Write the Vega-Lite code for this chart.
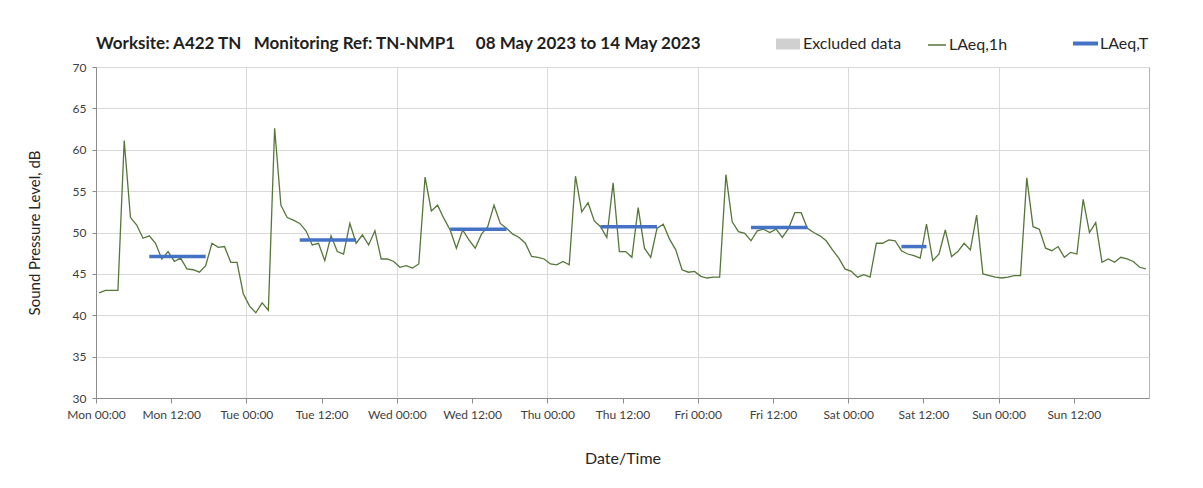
{
  "$schema": "https://vega.github.io/schema/vega-lite/v6.json",
  "width": 1053,
  "height": 331,
  "autosize": {"type": "none"},
  "padding": {"left": 96, "top": 67, "right": 54, "bottom": 90},
  "background": "white",
  "config": {
    "font": "Lato",
    "view": {"stroke": "#b3b3b3", "strokeWidth": 1}
  },
  "title": {
    "text": "Worksite: A422 TN\u00a0\u00a0\u00a0Monitoring Ref: TN-NMP1\u00a0\u00a0\u00a0\u00a0\u00a008 May 2023 to 14 May 2023",
    "anchor": "start",
    "frame": "group",
    "fontSize": 17,
    "fontWeight": "bold",
    "color": "#1f1f1f",
    "offset": -24
  },
  "datasets": {
    "hourly": [
      {"t":"2023-05-08T00:30","v":42.7},{"t":"2023-05-08T01:30","v":43.0},{"t":"2023-05-08T02:30","v":43.0},{"t":"2023-05-08T03:30","v":43.0},
      {"t":"2023-05-08T04:30","v":61.1},{"t":"2023-05-08T05:30","v":51.8},{"t":"2023-05-08T06:30","v":50.9},{"t":"2023-05-08T07:30","v":49.3},
      {"t":"2023-05-08T08:30","v":49.6},{"t":"2023-05-08T09:30","v":48.7},{"t":"2023-05-08T10:30","v":46.8},{"t":"2023-05-08T11:30","v":47.7},
      {"t":"2023-05-08T12:30","v":46.5},{"t":"2023-05-08T13:30","v":46.9},{"t":"2023-05-08T14:30","v":45.6},{"t":"2023-05-08T15:30","v":45.5},
      {"t":"2023-05-08T16:30","v":45.2},{"t":"2023-05-08T17:30","v":46.0},{"t":"2023-05-08T18:30","v":48.7},{"t":"2023-05-08T19:30","v":48.2},
      {"t":"2023-05-08T20:30","v":48.3},{"t":"2023-05-08T21:30","v":46.4},{"t":"2023-05-08T22:30","v":46.4},{"t":"2023-05-08T23:30","v":42.6},
      {"t":"2023-05-09T00:30","v":41.1},{"t":"2023-05-09T01:30","v":40.3},{"t":"2023-05-09T02:30","v":41.5},{"t":"2023-05-09T03:30","v":40.6},
      {"t":"2023-05-09T04:30","v":62.6},{"t":"2023-05-09T05:30","v":53.3},{"t":"2023-05-09T06:30","v":51.8},{"t":"2023-05-09T07:30","v":51.5},
      {"t":"2023-05-09T08:30","v":51.1},{"t":"2023-05-09T09:30","v":50.2},{"t":"2023-05-09T10:30","v":48.5},{"t":"2023-05-09T11:30","v":48.7},
      {"t":"2023-05-09T12:30","v":46.6},{"t":"2023-05-09T13:30","v":49.6},{"t":"2023-05-09T14:30","v":47.7},{"t":"2023-05-09T15:30","v":47.4},
      {"t":"2023-05-09T16:30","v":51.1},{"t":"2023-05-09T17:30","v":48.7},{"t":"2023-05-09T18:30","v":49.7},{"t":"2023-05-09T19:30","v":48.5},
      {"t":"2023-05-09T20:30","v":50.2},{"t":"2023-05-09T21:30","v":46.8},{"t":"2023-05-09T22:30","v":46.8},{"t":"2023-05-09T23:30","v":46.5},
      {"t":"2023-05-10T00:30","v":45.8},{"t":"2023-05-10T01:30","v":46.0},{"t":"2023-05-10T02:30","v":45.7},{"t":"2023-05-10T03:30","v":46.2},
      {"t":"2023-05-10T04:30","v":56.7},{"t":"2023-05-10T05:30","v":52.6},{"t":"2023-05-10T06:30","v":53.3},{"t":"2023-05-10T07:30","v":51.7},
      {"t":"2023-05-10T08:30","v":50.3},{"t":"2023-05-10T09:30","v":48.1},{"t":"2023-05-10T10:30","v":50.3},{"t":"2023-05-10T11:30","v":49.1},
      {"t":"2023-05-10T12:30","v":48.1},{"t":"2023-05-10T13:30","v":49.8},{"t":"2023-05-10T14:30","v":50.7},{"t":"2023-05-10T15:30","v":53.3},
      {"t":"2023-05-10T16:30","v":51.1},{"t":"2023-05-10T17:30","v":50.5},{"t":"2023-05-10T18:30","v":49.8},{"t":"2023-05-10T19:30","v":49.4},
      {"t":"2023-05-10T20:30","v":48.7},{"t":"2023-05-10T21:30","v":47.1},{"t":"2023-05-10T22:30","v":47.0},{"t":"2023-05-10T23:30","v":46.8},
      {"t":"2023-05-11T00:30","v":46.2},{"t":"2023-05-11T01:30","v":46.1},{"t":"2023-05-11T02:30","v":46.5},{"t":"2023-05-11T03:30","v":46.1},
      {"t":"2023-05-11T04:30","v":56.8},{"t":"2023-05-11T05:30","v":52.5},{"t":"2023-05-11T06:30","v":53.6},{"t":"2023-05-11T07:30","v":51.4},
      {"t":"2023-05-11T08:30","v":50.7},{"t":"2023-05-11T09:30","v":49.4},{"t":"2023-05-11T10:30","v":56.0},{"t":"2023-05-11T11:30","v":47.7},
      {"t":"2023-05-11T12:30","v":47.7},{"t":"2023-05-11T13:30","v":47.0},{"t":"2023-05-11T14:30","v":53.0},{"t":"2023-05-11T15:30","v":48.1},
      {"t":"2023-05-11T16:30","v":47.0},{"t":"2023-05-11T17:30","v":50.5},{"t":"2023-05-11T18:30","v":51.0},{"t":"2023-05-11T19:30","v":49.2},
      {"t":"2023-05-11T20:30","v":47.9},{"t":"2023-05-11T21:30","v":45.5},{"t":"2023-05-11T22:30","v":45.2},{"t":"2023-05-11T23:30","v":45.3},
      {"t":"2023-05-12T00:30","v":44.7},{"t":"2023-05-12T01:30","v":44.5},{"t":"2023-05-12T02:30","v":44.6},{"t":"2023-05-12T03:30","v":44.6},
      {"t":"2023-05-12T04:30","v":57.0},{"t":"2023-05-12T05:30","v":51.3},{"t":"2023-05-12T06:30","v":50.1},{"t":"2023-05-12T07:30","v":49.9},
      {"t":"2023-05-12T08:30","v":49.0},{"t":"2023-05-12T09:30","v":50.2},{"t":"2023-05-12T10:30","v":50.4},{"t":"2023-05-12T11:30","v":50.0},
      {"t":"2023-05-12T12:30","v":50.4},{"t":"2023-05-12T13:30","v":49.4},{"t":"2023-05-12T14:30","v":50.5},{"t":"2023-05-12T15:30","v":52.4},
      {"t":"2023-05-12T16:30","v":52.4},{"t":"2023-05-12T17:30","v":50.5},{"t":"2023-05-12T18:30","v":50.0},{"t":"2023-05-12T19:30","v":49.6},
      {"t":"2023-05-12T20:30","v":49.0},{"t":"2023-05-12T21:30","v":47.9},{"t":"2023-05-12T22:30","v":46.9},{"t":"2023-05-12T23:30","v":45.6},
      {"t":"2023-05-13T00:30","v":45.3},{"t":"2023-05-13T01:30","v":44.6},{"t":"2023-05-13T02:30","v":44.9},{"t":"2023-05-13T03:30","v":44.6},
      {"t":"2023-05-13T04:30","v":48.7},{"t":"2023-05-13T05:30","v":48.7},{"t":"2023-05-13T06:30","v":49.1},{"t":"2023-05-13T07:30","v":49.0},
      {"t":"2023-05-13T08:30","v":47.8},{"t":"2023-05-13T09:30","v":47.4},{"t":"2023-05-13T10:30","v":47.2},{"t":"2023-05-13T11:30","v":46.9},
      {"t":"2023-05-13T12:30","v":51.0},{"t":"2023-05-13T13:30","v":46.6},{"t":"2023-05-13T14:30","v":47.4},{"t":"2023-05-13T15:30","v":50.3},
      {"t":"2023-05-13T16:30","v":47.1},{"t":"2023-05-13T17:30","v":47.7},{"t":"2023-05-13T18:30","v":48.7},{"t":"2023-05-13T19:30","v":47.9},
      {"t":"2023-05-13T20:30","v":52.1},{"t":"2023-05-13T21:30","v":45.0},{"t":"2023-05-13T22:30","v":44.8},{"t":"2023-05-13T23:30","v":44.6},
      {"t":"2023-05-14T00:30","v":44.5},{"t":"2023-05-14T01:30","v":44.6},{"t":"2023-05-14T02:30","v":44.8},{"t":"2023-05-14T03:30","v":44.8},
      {"t":"2023-05-14T04:30","v":56.6},{"t":"2023-05-14T05:30","v":50.7},{"t":"2023-05-14T06:30","v":50.4},{"t":"2023-05-14T07:30","v":48.1},
      {"t":"2023-05-14T08:30","v":47.8},{"t":"2023-05-14T09:30","v":48.3},{"t":"2023-05-14T10:30","v":47.0},{"t":"2023-05-14T11:30","v":47.6},
      {"t":"2023-05-14T12:30","v":47.4},{"t":"2023-05-14T13:30","v":54.0},{"t":"2023-05-14T14:30","v":50.0},{"t":"2023-05-14T15:30","v":51.2},
      {"t":"2023-05-14T16:30","v":46.4},{"t":"2023-05-14T17:30","v":46.8},{"t":"2023-05-14T18:30","v":46.4},{"t":"2023-05-14T19:30","v":47.0},
      {"t":"2023-05-14T20:30","v":46.8},{"t":"2023-05-14T21:30","v":46.5},{"t":"2023-05-14T22:30","v":45.8},{"t":"2023-05-14T23:30","v":45.6}
    ],
    "periods": [
      {"s":"2023-05-08T08:30","e":"2023-05-08T17:30","v":47.1},
      {"s":"2023-05-09T08:30","e":"2023-05-09T17:30","v":49.1},
      {"s":"2023-05-10T08:30","e":"2023-05-10T17:30","v":50.4},
      {"s":"2023-05-11T08:30","e":"2023-05-11T17:30","v":50.7},
      {"s":"2023-05-12T08:30","e":"2023-05-12T17:30","v":50.6},
      {"s":"2023-05-13T08:30","e":"2023-05-13T12:30","v":48.3}
    ]
  },
  "layer": [
    {
      "data": {"values": []},
      "mark": {"type": "rect"},
      "encoding": {
        "x": {"field": "a", "type": "temporal"},
        "x2": {"field": "b"},
        "color": {
          "field": "k", "type": "nominal",
          "scale": {"domain": ["Excluded data"], "range": ["#d0d0d0"]},
          "legend": {
            "orient": "none", "legendX": 680, "legendY": -35, "title": null, "padding": 0,
            "labelFontSize": 16, "labelColor": "#262626", "labelFont": "Lato", "labelOffset": 3,
            "symbolType": "M-1,-0.45L1,-0.45L1,0.45L-1,0.45Z", "symbolSize": 576,
            "symbolStrokeWidth": 0, "symbolFillColor": "#d0d0d0", "symbolOpacity": 1
          }
        }
      }
    },
    {
      "data": {"name": "hourly"},
      "mark": {"type": "line", "strokeWidth": 1.3},
      "encoding": {
        "x": {
          "field": "t", "type": "temporal",
          "scale": {"domain": [{"year": 2023, "month": 5, "date": 8}, {"year": 2023, "month": 5, "date": 15}]},
          "axis": {
            "title": "Date/Time",
            "format": "%a %H:%M",
            "values": [
              {"year": 2023, "month": 5, "date": 8, "hours": 0}, {"year": 2023, "month": 5, "date": 8, "hours": 12},
              {"year": 2023, "month": 5, "date": 9, "hours": 0}, {"year": 2023, "month": 5, "date": 9, "hours": 12},
              {"year": 2023, "month": 5, "date": 10, "hours": 0}, {"year": 2023, "month": 5, "date": 10, "hours": 12},
              {"year": 2023, "month": 5, "date": 11, "hours": 0}, {"year": 2023, "month": 5, "date": 11, "hours": 12},
              {"year": 2023, "month": 5, "date": 12, "hours": 0}, {"year": 2023, "month": 5, "date": 12, "hours": 12},
              {"year": 2023, "month": 5, "date": 13, "hours": 0}, {"year": 2023, "month": 5, "date": 13, "hours": 12},
              {"year": 2023, "month": 5, "date": 14, "hours": 0}, {"year": 2023, "month": 5, "date": 14, "hours": 12}
            ],
            "labelFontSize": 12, "labelColor": "#404040", "labelPadding": 6, "labelFlush": false, "labelOverlap": false,
            "tickSize": 5, "tickColor": "#8c8c8c", "domainColor": "#8c8c8c",
            "grid": true, "gridColor": "#d9d9d9",
            "gridOpacity": {"condition": {"test": "hours(datum.value) === 0", "value": 1}, "value": 0},
            "titleFontSize": 16, "titleFontWeight": "normal", "titleColor": "#262626", "titlePadding": 30
          }
        },
        "y": {
          "field": "v", "type": "quantitative",
          "scale": {"domain": [30, 70], "nice": false, "zero": false},
          "axis": {
            "title": "Sound Pressure Level, dB",
            "values": [30, 35, 40, 45, 50, 55, 60, 65, 70],
            "labelFontSize": 12, "labelColor": "#404040", "labelPadding": 6,
            "tickSize": 4, "tickColor": "#8c8c8c", "domainColor": "#8c8c8c",
            "grid": true, "gridColor": "#d9d9d9",
            "titleFontSize": 15, "titleFontWeight": "normal", "titleColor": "#262626", "titlePadding": 30
          }
        },
        "color": {
          "datum": "LAeq,1h",
          "scale": {"domain": ["LAeq,1h"], "range": ["#56763a"]},
          "legend": {
            "orient": "none", "legendX": 831, "legendY": -32, "title": null, "padding": 0,
            "labelFontSize": 16, "labelColor": "#262626", "labelFont": "Lato", "labelOffset": 2,
            "symbolType": "stroke", "symbolSize": 324, "symbolStrokeWidth": 1.5
          }
        }
      }
    },
    {
      "data": {"name": "periods"},
      "mark": {"type": "rule", "strokeWidth": 3.5},
      "encoding": {
        "x": {"field": "s", "type": "temporal"},
        "x2": {"field": "e"},
        "y": {"field": "v", "type": "quantitative", "scale": {"domain": [30, 70], "nice": false, "zero": false}},
        "color": {
          "datum": "LAeq,T",
          "scale": {"domain": ["LAeq,T"], "range": ["#4472c4"]},
          "legend": {
            "orient": "none", "legendX": 975, "legendY": -38, "title": null, "padding": 0,
            "labelFontSize": 16, "labelColor": "#262626", "labelFont": "Lato", "labelOffset": 0,
            "symbolType": "stroke", "symbolSize": 625, "symbolStrokeWidth": 4
          }
        }
      }
    }
  ],
  "resolve": {"scale": {"color": "independent"}, "legend": {"color": "independent"}}
}
